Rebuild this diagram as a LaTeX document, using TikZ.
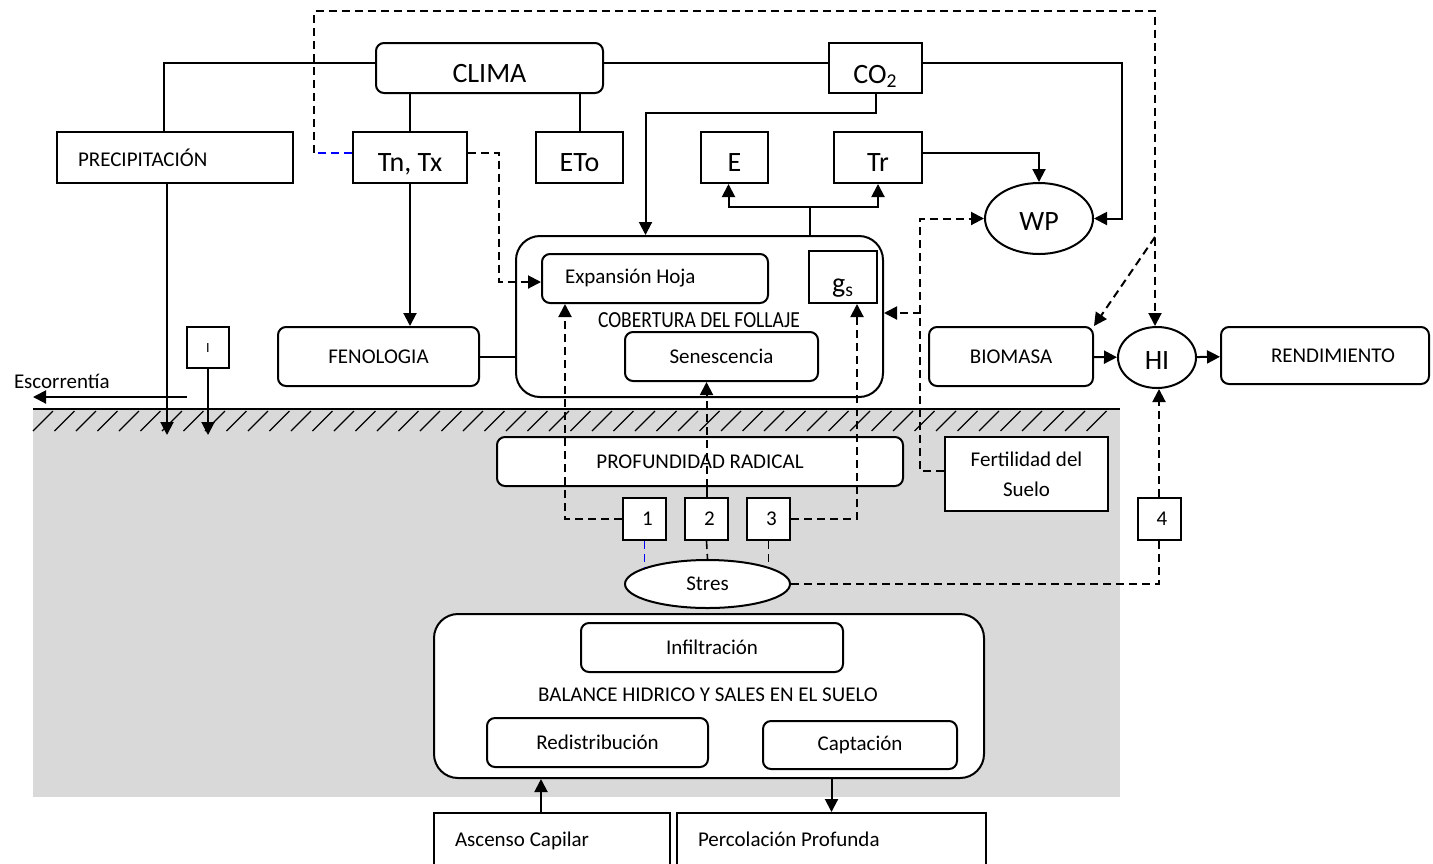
\documentclass[tikz,border=0pt]{standalone}
\usepackage{fontspec}
\setmainfont{Carlito}
\usepackage{graphicx}
\usetikzlibrary{arrows.meta,shapes.geometric}
\definecolor{soilGray}{HTML}{D9D9D9}
\definecolor{linkBlue}{HTML}{0000FF}
\tikzset{
  blk/.style={draw, fill=white, line width=1pt, inner sep=0pt, font=\fontsize{10.5}{15}\selectfont},
  rblk/.style={blk, rounded corners=4pt},
  bigblk/.style={blk, font=\fontsize{14}{16}\selectfont, text height=14pt, text depth=0pt},
  oval/.style={blk, ellipse},
  numblk/.style={blk, minimum width=21.5pt, minimum height=21pt},
  dlink/.style={dash pattern=on 4pt off 2.5pt}
}

\begin{document}
\begin{tikzpicture}[x=0.5pt, y=-0.5pt, line width=1pt, >={Triangle[length=6.5pt,width=6.5pt]}]
            \useasboundingbox (0,0) rectangle (1433,863);
            \fill[soilGray] (33,409) rectangle (1120,797);
            \draw (33,409) -- (1120,409);
            \foreach \hx in {33,54.5,...,1090}
              \draw[line width=0.6pt] (\hx,431) -- ++(20,-20);

            \node[bigblk, rounded corners=4pt, minimum width=113.5pt, minimum height=25pt] (clima) at (489.5,68) {CLIMA};
            \node[bigblk, text height=15pt, minimum width=46.5pt, minimum height=25pt] (co2) at (875.5,68) {CO\textsubscript{2}};
            \node[blk, minimum width=118pt, minimum height=25.5pt] (precip) at (175,157.5) {\makebox[97pt][l]{PRECIPITACIÓN}};
            \node[bigblk, minimum width=57pt, minimum height=25.5pt] (tntx) at (410,157.5) {Tn, Tx};
            \node[bigblk, minimum width=43.5pt, minimum height=25.5pt] (eto) at (579.5,157.5) {ETo};
            \node[bigblk, minimum width=33.5pt, minimum height=25.5pt] (e) at (734.5,157.5) {E};
            \node[bigblk, minimum width=44pt, minimum height=25.5pt] (tr) at (878,157.5) {Tr};
            \node[oval, bigblk, ellipse, text height=12pt, minimum width=54pt, minimum height=35.5pt] (wp) at (1039,218.5) {WP};

            \node[blk, rounded corners=12pt, minimum width=183.5pt, minimum height=80.5pt] (cobertura) at (699.5,316.5) {};
            \node[font=\fontsize{11.5}{13}\selectfont] (cobLabel) at (699,320) {\scalebox{0.85}[1]{COBERTURA DEL FOLLAJE}};
            \node[rblk, minimum width=113pt, minimum height=24.5pt] (expansion) at (655,278.5) {\makebox[90pt][l]{Expansión Hoja}};
            \node[bigblk, text height=15pt, minimum width=34pt, minimum height=26pt] (gs) at (843,277) {g\textsubscript{s}};
            \node[rblk, minimum width=96.5pt, minimum height=24.5pt] (senes) at (721.5,356.5) {Senescencia};
            \node[rblk, minimum width=100.5pt, minimum height=29.5pt] (fenologia) at (378.5,356.5) {FENOLOGIA};
            \node[blk, minimum width=21pt, minimum height=20.5pt] (ibox) at (208,347.5) {\raisebox{-2.5pt}{\fontsize{7}{8}\selectfont I}};
            \node[rblk, minimum width=82pt, minimum height=29.5pt] (biomasa) at (1011,356.5) {BIOMASA};
            \node[oval, bigblk, ellipse, text height=12pt, minimum width=39pt, minimum height=30.5pt] (hi) at (1157,357.5) {HI};
            \node[rblk, minimum width=104pt, minimum height=28.5pt] (rend) at (1325,355.5) {\kern8pt RENDIMIENTO};
            \node[anchor=base west, font=\fontsize{10.5}{12}\selectfont, inner sep=0pt] (escorrentia) at (13,388) {Escorrentía};

            \node[rblk, minimum width=203pt, minimum height=24.5pt] (prof) at (700,461.5) {PROFUNDIDAD RADICAL};
            \node[blk, minimum width=81.5pt, minimum height=37pt, align=center] (fert) at (1026.5,474) {Fertilidad del\\Suelo};
            \node[numblk] (n1) at (644.5,519) {\kern3pt\raisebox{-2.5pt}{1}};
            \node[numblk] (n2) at (706.5,519) {\kern3pt\raisebox{-2.5pt}{2}};
            \node[numblk] (n3) at (768.5,519) {\kern3pt\raisebox{-2.5pt}{3}};
            \node[numblk] (n4) at (1159,519) {\kern3pt\raisebox{-2.5pt}{4}};
            \node[oval, minimum width=82.5pt, minimum height=24pt] (stres) at (707.5,584) {\raisebox{-1.5pt}{Stres}};

            \node[blk, rounded corners=12pt, minimum width=275pt, minimum height=82pt] (balance) at (709,696) {};
            \node[font=\fontsize{10.5}{12}\selectfont] (balLabel) at (708,695) {BALANCE HIDRICO Y SALES EN EL SUELO};
            \node[rblk, minimum width=131pt, minimum height=24.5pt] (infil) at (712,647.5) {Infiltración};
            \node[rblk, minimum width=110.5pt, minimum height=24.5pt] (redis) at (597.5,742.5) {Redistribución};
            \node[rblk, minimum width=97pt, minimum height=24pt] (capt) at (860,745) {Captación};
            \node[blk, minimum width=118pt, minimum height=28.5pt] (ascenso) at (552,841.5) {\makebox[97pt][l]{\raisebox{2pt}{Ascenso Capilar}}};
            \node[blk, minimum width=154.5pt, minimum height=28.5pt] (percol) at (831.5,841.5) {\makebox[133.5pt][l]{\raisebox{2pt}{Percolación Profunda}}};

            \draw ([yshift=2.5pt]clima.west) -| ([xshift=-5.5pt]precip.north);
            \draw ([yshift=2.5pt]clima.east) -- ([yshift=2.5pt]co2.west);
            \draw (clima.south -| tntx.north) -- (tntx.north);
            \draw (clima.south -| eto.north) -- (eto.north);
            \draw[->] ([yshift=2.5pt]co2.east) -| ([xshift=14pt]wp.east) -- (wp.east);
            \draw[->] (co2.south) -- ++(0,19) -| ([xshift=-27pt]cobertura.north);
            \coordinate (etSplit) at (810,207);
            \draw (cobertura.north -| etSplit) -- (etSplit);
            \draw[->] (etSplit) -| ([xshift=-3pt]e.south);
            \draw[->] (etSplit) -| (tr.south);
            \draw[->] ([yshift=2.5pt]tr.east) -| (wp.north);

            \coordinate (rainIn) at (167,435);
            \coordinate (infIn) at (208,435);
            \coordinate (runStart) at (187,397);
            \coordinate (runEnd) at (33,397);
            \draw[->] (precip.south -| rainIn) -- (rainIn);
            \draw[->] (ibox.south) -- (infIn);
            \draw[->] (runStart) -- (runEnd);

            \draw[->] (tntx.south) -- (tntx.south |- fenologia.north);
            \draw (fenologia.east) -- (fenologia.east -| cobertura.west);
            \draw[dlink,->] ([yshift=2.5pt]tntx.east) -- ++(31,0) |- ([yshift=-1.75pt]expansion.west);
            \draw[dlink,linkBlue] ([yshift=2.5pt]tntx.west) -- ++(-38,0) coordinate (tempBend);
            \coordinate (topR) at (1155,11);
            \draw[dlink,->] (tempBend) |- (topR) -- (topR |- hi.north);
            \coordinate (hiSplit) at (1155,237);
            \draw[dlink,->] (hiSplit) -- (biomasa.north east);

            \draw[dlink,->] ([yshift=1.5pt]fert.west) -| ([xshift=-32pt]wp.west) -- (wp.west);
            \coordinate (fertLine) at (921,313);
            \draw[dlink,->] (fertLine) -- (fertLine -| cobertura.east);
            \draw[->] (biomasa) -- (hi);
            \draw[->] (hi) -- (rend);

            \draw[dlink,->] (n1.west) -| ([xshift=-45pt]expansion.south);
            \draw[dlink,->] (n3.east) -| ([xshift=7pt]gs.south);
            \draw (n2.north) -- (n2.north |- prof.south);
            \draw[dlink,->] (n2.north |- prof.south) -- (n2.north |- senes.south);
            \draw[dlink,linkBlue,line width=0.8pt] (n1.south) -- (n1.south |- stres.166);
            \draw[dlink,line width=0.8pt] (n2.south) -- (stres.north);
            \draw[dlink,line width=0.8pt] (n3.south) -- (n3.south |- stres.16);
            \draw[dlink] (stres.east) -| (n4.south);
            \draw[dlink,->] (n4.north) -- (n4.north |- hi.south);

            \draw[->] ([xshift=-5.5pt]ascenso.north) -- ([xshift=-5.5pt]ascenso.north |- balance.south);
            \draw[->] (percol.north |- balance.south) -- (percol.north);
        \end{tikzpicture}
\end{document}
